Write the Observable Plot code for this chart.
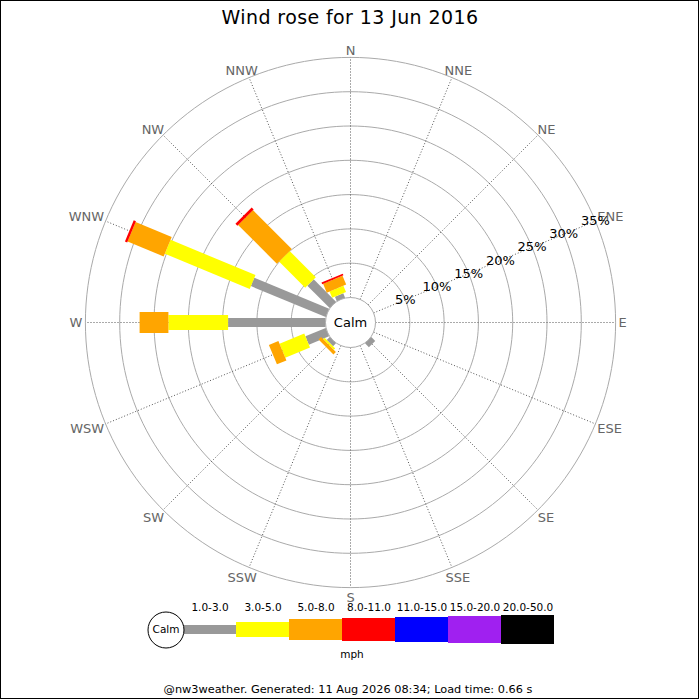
<!DOCTYPE html>
<html>
<head>
<meta charset="utf-8">
<script src="https://cdn.jsdelivr.net/npm/d3@7"></script>
<script src="https://cdn.jsdelivr.net/npm/@observablehq/plot@0.6"></script>
<style>
  body { margin: 0; background: #fff; font-family: "DejaVu Sans", sans-serif; }
  #wrap { position: relative; width: 700px; height: 700px; overflow: hidden; background: #fff; }
  #title { position: absolute; left: 0; top: 4px; width: 700px; text-align: center; font-size: 19px; letter-spacing: 0.4px; line-height: 26px; color: #000; }
  #rose { position: absolute; left: 0; top: 34px; }
  #legend { position: absolute; left: 0; top: 600px; }
  #footer { position: absolute; left: -2px; top: 682px; width: 700px; text-align: center; font-size: 11.3px; line-height: 16px; color: #000; }
  #frame { position: absolute; left: 0; top: 0; width: 699px; height: 699px; box-sizing: border-box; border: 1px solid #000; pointer-events: none; }
</style>
</head>
<body>
<div id="wrap">
  <div id="title">Wind rose for 13 Jun 2016</div>
  <div id="rose"></div>
  <div id="legend"></div>
  <div id="footer">@nw3weather. Generated: 11 Aug 2026 08:34; Load time: 0.66 s</div>
  <div id="frame"></div>
</div>
<script>
// ---------- data ----------
const directions = ["N","NNE","NE","ENE","E","ESE","SE","SSE","S","SSW","SW","WSW","W","WNW","NW","NNW"];
const speedBins = ["1.0-3.0","3.0-5.0","5.0-8.0","8.0-11.0","11.0-15.0","15.0-20.0","20.0-50.0"];
// frequency (% of observations) per direction, same order as `directions`
const freq_1_3   = [0,0,0,0,0,0,0.8,0,0,0,0.6,3.2,14.2,11.8,4.6,0.7];
const freq_3_5   = [0,0,0,0,0,0,0,0,0,0,0.3,3.9,8.7,13.4,5.4,1.0];
const freq_5_8   = [0,0,0,0,0,0,0,0,0,0,0.5,1.5,4.2,5.7,8.0,1.4];
const freq_8_11  = [0,0,0,0,0,0,0,0,0,0,0,0,0,0.35,0.4,0.25];
const freq_11_15 = [0,0,0,0,0,0,0,0,0,0,0,0,0,0,0,0];
const freq_15_20 = [0,0,0,0,0,0,0,0,0,0,0,0,0,0,0,0];
const freq_20_50 = [0,0,0,0,0,0,0,0,0,0,0,0,0,0,0,0];
const ringPercents = [5,10,15,20,25,30,35];
const calmLabel = "Calm";
const unitLabel = "mph";

// ---------- styles ----------
const binColors = ["#999999","#ffff00","#ffa500","#ff0000","#0000ff","#a020f0","#000000"];
const binWidths = [9,15,21,23,25,27,29];
const PX_PER_PCT = 34.3 / 5;     // radial pixels per percent
const CALM_R = 25;               // calm circle radius, px
const c0 = CALM_R / PX_PER_PCT;  // calm offset in percent units
const FONT = "DejaVu Sans";

const series = [freq_1_3, freq_3_5, freq_5_8, freq_8_11, freq_11_15, freq_15_20, freq_20_50];
const rad = deg => deg * Math.PI / 180;
const angleOf = i => i * 360 / directions.length;

// stacked segments
const segments = [];
directions.forEach((d, i) => {
  let cum = 0;
  series.forEach((s, b) => {
    const v = s[i];
    if (v > 0) {
      segments.push({dir: d, a: rad(angleOf(i)), bin: b, r0: c0 + cum, r1: c0 + cum + v});
      cum += v;
    }
  });
});

const rOuter = c0 + ringPercents[ringPercents.length - 1];

// ring outlines
const ringPts = [];
ringPercents.forEach(p => {
  for (let a = 0; a <= 360; a += 2) {
    ringPts.push({ring: p, x: (c0 + p) * Math.sin(rad(a)), y: (c0 + p) * Math.cos(rad(a))});
  }
});

const dirRows = directions.map((d, i) => ({dir: d, a: rad(angleOf(i))}));

// text measurement for label placement
const ctx = document.createElement("canvas").getContext("2d");
ctx.font = `13px "${FONT}"`;

const dirLabelMarks = dirRows.map(r => {
  const w = ctx.measureText(r.dir).width;
  const s = Math.sin(r.a), c = Math.cos(r.a);
  const gap = 3;
  let off = 0;
  if (c > 0.01) off = -(2.9 + 4.4 * c);
  else if (c < -0.01) off = 1.25 + 8.75 * (-c);
  return Plot.text([r], {
    x: d => rOuter * Math.sin(d.a),
    y: d => rOuter * Math.cos(d.a),
    text: "dir",
    dx: s * (w / 2 + gap),
    dy: off + 0.6,
    fill: "#666",
    fontSize: 13,
    textAnchor: "middle"
  });
});

const labelAngle = rad(67.5);

const rose = Plot.plot({
  width: 700,
  height: 570,
  margin: 0,
  x: {domain: [-350 / PX_PER_PCT, 350 / PX_PER_PCT], axis: null},
  y: {domain: [-282 / PX_PER_PCT, 288 / PX_PER_PCT], axis: null},
  style: {fontFamily: FONT, background: "transparent"},
  marks: [
    Plot.line(ringPts, {x: "x", y: "y", z: "ring", stroke: "#aaaaaa", strokeWidth: 1}),
    Plot.link(dirRows, {
      x1: d => c0 * Math.sin(d.a), y1: d => c0 * Math.cos(d.a),
      x2: d => rOuter * Math.sin(d.a), y2: d => rOuter * Math.cos(d.a),
      stroke: "#555", strokeWidth: 1, strokeDasharray: "1,2"
    }),
    ...speedBins.map((bin, b) => Plot.link(segments.filter(s => s.bin === b), {
      x1: d => d.r0 * Math.sin(d.a), y1: d => d.r0 * Math.cos(d.a),
      x2: d => d.r1 * Math.sin(d.a), y2: d => d.r1 * Math.cos(d.a),
      stroke: binColors[b], strokeWidth: binWidths[b], strokeLinecap: "butt"
    })),
    Plot.dot([calmLabel], {x: () => 0, y: () => 0, r: CALM_R, fill: "white", stroke: "#aaaaaa", strokeWidth: 1}),
    Plot.text([calmLabel], {x: () => 0, y: () => 0, text: d => d, fontSize: 13, fill: "#000"}),
    ...dirLabelMarks,
    Plot.text(ringPercents, {
      x: p => (c0 + p) * Math.sin(labelAngle),
      y: p => (c0 + p) * Math.cos(labelAngle),
      text: p => p + "%",
      fontSize: 13, fill: "#000"
    })
  ]
});
document.getElementById("rose").appendChild(rose);

// ---------- legend ----------
const legendRows = speedBins.map((bin, b) => ({bin, b}));
const LEG_Y = 29.5;
const legend = Plot.plot({
  width: 700,
  height: 70,
  margin: 0,
  x: {type: "band", domain: [calmLabel, ...speedBins], range: [126.7, 556.7], padding: 0, axis: null},
  y: {domain: [0, 70], range: [0, 70], axis: null},
  style: {fontFamily: FONT, background: "transparent"},
  marks: [
    ...legendRows.map(r => Plot.barY([r], {
      x: "bin",
      y1: d => LEG_Y - binWidths[d.b] / 2,
      y2: d => LEG_Y + binWidths[d.b] / 2,
      fill: binColors[r.b]
    })),
    Plot.text(speedBins, {x: d => d, y: () => 7.5, text: d => d, fontSize: 10.5, fill: "#000"}),
    Plot.dot([calmLabel], {x: d => d, y: () => LEG_Y, r: 18, dx: 9, fill: "white", stroke: "#000", strokeWidth: 1}),
    Plot.text([calmLabel], {x: d => d, y: () => LEG_Y, dx: 9, text: d => d, fontSize: 10.5, fill: "#000"}),
    Plot.text([unitLabel], {x: () => speedBins[3], y: () => 54, dx: -17, text: d => d, fontSize: 10.5, fill: "#000"})
  ]
});
document.getElementById("legend").appendChild(legend);
</script>
</body>
</html>
